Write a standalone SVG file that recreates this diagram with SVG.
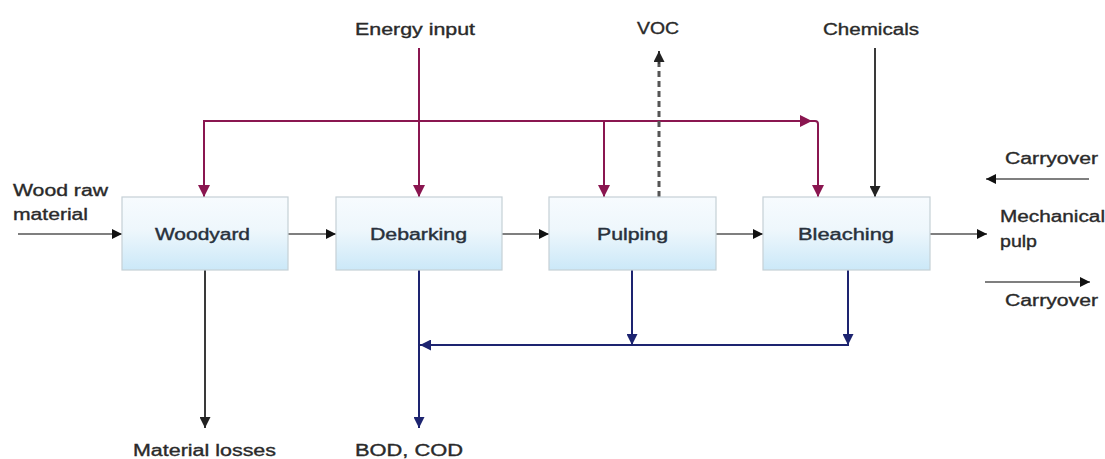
<svg xmlns="http://www.w3.org/2000/svg" width="1105" height="459" viewBox="0 0 1105 459">
<defs>
<linearGradient id="boxg" x1="0" y1="0" x2="0" y2="1">
<stop offset="0" stop-color="#f7fbfe"/>
<stop offset="0.45" stop-color="#eef7fc"/>
<stop offset="1" stop-color="#cbe8f8"/>
</linearGradient>
<marker id="ak" viewBox="0 0 10 10" refX="10" refY="5" markerWidth="10" markerHeight="10" markerUnits="userSpaceOnUse" orient="auto"><path d="M0,0 L10,5 L0,10 z" fill="#111"/></marker>
<marker id="ap" viewBox="0 0 10 10" refX="10" refY="5" markerWidth="12" markerHeight="12" markerUnits="userSpaceOnUse" orient="auto"><path d="M0,0 L10,5 L0,10 z" fill="#8a1650"/></marker>
<marker id="ab" viewBox="0 0 10 10" refX="10" refY="5" markerWidth="11" markerHeight="11" markerUnits="userSpaceOnUse" orient="auto"><path d="M0,0 L10,5 L0,10 z" fill="#1d2470"/></marker>
<marker id="ag" viewBox="0 0 10 10" refX="10" refY="5" markerWidth="11" markerHeight="11" markerUnits="userSpaceOnUse" orient="auto"><path d="M0,0 L10,5 L0,10 z" fill="#222"/></marker>
</defs>
<style>
.box{fill:url(#boxg);stroke:#c5d0d6;stroke-width:1.2}
.t{font-family:"Liberation Sans",Arial,sans-serif;font-size:16px;fill:#2a2a2a;stroke:#2a2a2a;stroke-width:0.35}
.bt{font-family:"Liberation Sans",Arial,sans-serif;font-size:16px;fill:#28313c;stroke:#28313c;stroke-width:0.4}
.k{stroke:#555;stroke-width:1.6;fill:none}
.p{stroke:#8a1650;stroke-width:2;fill:none}
.b{stroke:#1d2470;stroke-width:2;fill:none}
.g{stroke:#3a3a3a;stroke-width:2;fill:none}
</style>
<rect width="1105" height="459" fill="#ffffff"/>
<g id="connectors">
<line class="k" x1="18" y1="234" x2="122" y2="234" marker-end="url(#ak)"/>
<line class="k" x1="288" y1="234" x2="336" y2="234" marker-end="url(#ak)"/>
<line class="k" x1="502" y1="234" x2="549" y2="234" marker-end="url(#ak)"/>
<line class="k" x1="716" y1="234" x2="763" y2="234" marker-end="url(#ak)"/>
<line class="k" x1="930" y1="234" x2="987" y2="234" marker-end="url(#ak)"/>
<line class="k" x1="1089" y1="179" x2="986" y2="179" marker-end="url(#ak)"/>
<line class="k" x1="985" y1="282" x2="1090" y2="282" marker-end="url(#ak)"/>
<path class="p" d="M204,197 V121 H812" marker-end="url(#ap)"/>
<line class="p" x1="204" y1="126" x2="204" y2="197" marker-end="url(#ap)"/>
<path class="p" d="M812,121 H815 Q818,121 818,124 V197" marker-end="url(#ap)"/>
<line class="p" x1="604" y1="121" x2="604" y2="197" marker-end="url(#ap)"/>
<line class="p" x1="419" y1="48" x2="419" y2="197" marker-end="url(#ap)"/>
<line stroke="#555" stroke-width="3" stroke-dasharray="6,4" x1="659" y1="197" x2="659" y2="62"/>
<line class="g" x1="659" y1="64" x2="659" y2="51" marker-end="url(#ag)"/>
<line class="g" x1="875" y1="48" x2="875" y2="197" marker-end="url(#ag)"/>
<line class="g" stroke="#111" x1="205" y1="270" x2="205" y2="428" marker-end="url(#ag)"/>
<line class="b" x1="419" y1="270" x2="419" y2="428" marker-end="url(#ab)"/>
<line class="b" x1="632" y1="270" x2="632" y2="345" marker-end="url(#ab)"/>
<path class="b" d="M848,270 V345 H420" marker-end="url(#ab)"/>
<line class="b" x1="848" y1="300" x2="848" y2="345" marker-end="url(#ab)"/>
</g>
<g id="woodyard"><rect class="box" x="122" y="197" width="166" height="73"/><text class="bt" x="155" y="240" textLength="95" lengthAdjust="spacingAndGlyphs">Woodyard</text></g>
<g id="debarking"><rect class="box" x="336" y="197" width="166" height="73"/><text class="bt" x="370" y="240" textLength="97" lengthAdjust="spacingAndGlyphs">Debarking</text></g>
<g id="pulping"><rect class="box" x="549" y="197" width="167" height="73"/><text class="bt" x="597" y="240" textLength="71" lengthAdjust="spacingAndGlyphs">Pulping</text></g>
<g id="bleaching"><rect class="box" x="763" y="197" width="167" height="73"/><text class="bt" x="798" y="240" textLength="96" lengthAdjust="spacingAndGlyphs">Bleaching</text></g>
<g id="labels">
<text class="t" x="13" y="196" textLength="95" lengthAdjust="spacingAndGlyphs">Wood raw</text>
<text class="t" x="13" y="220" textLength="75" lengthAdjust="spacingAndGlyphs">material</text>
<text class="t" x="355" y="35" textLength="120" lengthAdjust="spacingAndGlyphs">Energy input</text>
<text class="t" x="637" y="34" textLength="42" lengthAdjust="spacingAndGlyphs">VOC</text>
<text class="t" x="823" y="35" textLength="96" lengthAdjust="spacingAndGlyphs">Chemicals</text>
<text class="t" x="1005" y="164" textLength="93" lengthAdjust="spacingAndGlyphs">Carryover</text>
<text class="t" x="1000" y="222" textLength="105" lengthAdjust="spacingAndGlyphs">Mechanical</text>
<text class="t" x="1000" y="247" textLength="37" lengthAdjust="spacingAndGlyphs">pulp</text>
<text class="t" x="1005" y="306" textLength="93" lengthAdjust="spacingAndGlyphs">Carryover</text>
<text class="t" x="133" y="456" textLength="143" lengthAdjust="spacingAndGlyphs">Material losses</text>
<text class="t" x="355" y="456" textLength="108" lengthAdjust="spacingAndGlyphs">BOD, COD</text>
</g>
</svg>
